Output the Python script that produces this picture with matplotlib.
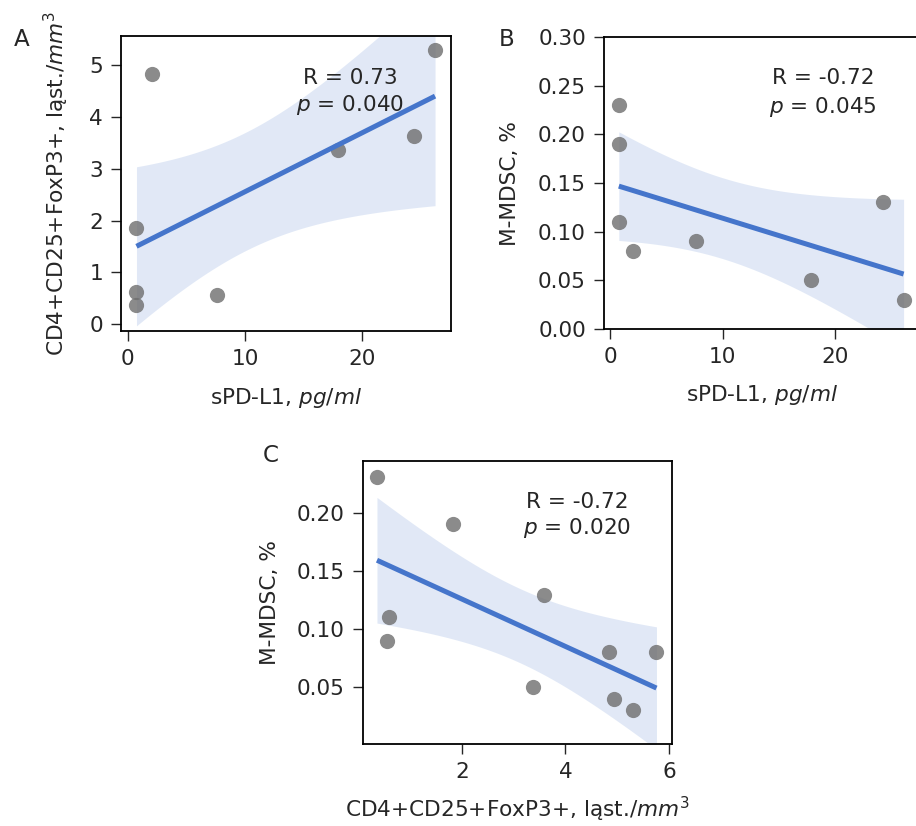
import numpy as np
import matplotlib
matplotlib.use("Agg")
import matplotlib.pyplot as plt

# ---- data ----
spdl1 = [0.75, 0.75, 0.75, 2.1, 7.6, 17.9, 24.4, 26.2]
treg_a = [1.85, 0.61, 0.37, 4.83, 0.57, 3.36, 3.63, 5.30]

spdl1_b = [0.75, 0.75, 0.75, 2.0, 7.6, 17.9, 24.3, 26.1]
mdsc_b = [0.23, 0.19, 0.11, 0.08, 0.09, 0.05, 0.13, 0.03]

treg_c = [0.36, 1.83, 0.60, 0.55, 3.59, 3.38, 4.84, 4.93, 5.31, 5.76]
mdsc_c = [0.231, 0.19, 0.11, 0.09, 0.129, 0.05, 0.08, 0.04, 0.03, 0.08]

stat_a = ["R = 0.73", "$p$ = 0.040"]
stat_b = ["R = -0.72", "$p$ = 0.045"]
stat_c = ["R = -0.72", "$p$ = 0.020"]

xlabel_spd = "sPD-L1, $pg/ml$"
label_treg = "CD4+CD25+FoxP3+, ląst./$mm^3$"
label_mdsc = "M-MDSC, %"

Z95 = 1.96  # normal quantile for the 95% band

# ---- style ----
FS = 15.6
TXT = "#262626"
plt.rcParams.update({
    "font.family": ["DejaVu Sans"],
    "font.size": FS,
    "text.color": TXT,
    "axes.labelcolor": TXT,
    "xtick.color": TXT,
    "ytick.color": TXT,
    "xtick.labelcolor": TXT,
    "ytick.labelcolor": TXT,
    "axes.linewidth": 1.3,
    "xtick.major.size": 7,
    "ytick.major.size": 7,
    "xtick.major.width": 1.0,
    "ytick.major.width": 1.0,
    "xtick.major.pad": 6,
    "ytick.major.pad": 6,
    "mathtext.fontset": "dejavusans",
})

LINE = "#4575cb"
PT = "#6e6e6e"

W, H = 916, 826
fig = plt.figure(figsize=(W / 100, H / 100), dpi=100)


def add_ax(l, r, t, b):
    return fig.add_axes([l / W, 1 - b / H, (r - l) / W, (b - t) / H])


def regpanel(ax, x, y):
    x = np.asarray(x, float)
    y = np.asarray(y, float)
    n = len(x)
    b1, b0 = np.polyfit(x, y, 1)
    grid = np.linspace(x.min(), x.max(), 100)
    yhat = b0 + b1 * grid
    resid = y - (b0 + b1 * x)
    s = np.sqrt(np.sum(resid ** 2) / (n - 2))
    sxx = np.sum((x - x.mean()) ** 2)
    half = Z95 * s * np.sqrt(1 / n + (grid - x.mean()) ** 2 / sxx)
    ax.fill_between(grid, yhat - half, yhat + half, color=LINE, alpha=0.16,
                    linewidth=0, zorder=1)
    ax.plot(grid, yhat, color=LINE, lw=3.6, zorder=3, solid_capstyle="butt")
    ax.scatter(x, y, s=120, color=PT, alpha=0.8, linewidths=0, zorder=2)


def stats(ax, lines, ya, yb):
    ax.text(0.694, ya, lines[0], transform=ax.transAxes, ha="center", va="center",
            fontsize=FS)
    ax.text(0.694, yb, lines[1], transform=ax.transAxes, ha="center", va="center",
            fontsize=FS)


# Panel A
axA = add_ax(121, 451, 36, 331)
regpanel(axA, spdl1, treg_a)
axA.set_xlim(-0.57, 27.56)
axA.set_ylim(-0.135, 5.57)
axA.set_xticks([0, 10, 20])
axA.set_yticks([0, 1, 2, 3, 4, 5])
axA.set_xlabel(xlabel_spd)
axA.set_ylabel(label_treg)
axA.xaxis.set_label_coords(0.5, -0.185)
axA.yaxis.set_label_coords(-0.152, 0.5)
stats(axA, stat_a, 0.858, 0.766)

# Panel B
axB = add_ax(604, 920, 37, 329)
regpanel(axB, spdl1_b, mdsc_b)
axB.set_xlim(-0.57, 27.56)
axB.set_ylim(0, 0.30)
axB.set_xticks([0, 10, 20])
axB.set_yticks([0, 0.05, 0.10, 0.15, 0.20, 0.25, 0.30])
axB.set_yticklabels([f"{v:.2f}" for v in axB.get_yticks()])
axB.set_xlabel(xlabel_spd)
axB.set_ylabel(label_mdsc)
axB.xaxis.set_label_coords(0.5, -0.185)
axB.yaxis.set_label_coords(-0.265, 0.5)
stats(axB, stat_b, 0.861, 0.761)

# Panel C
axC = add_ax(363, 672, 461, 744)
regpanel(axC, treg_c, mdsc_c)
axC.set_xlim(0.09, 6.06)
axC.set_ylim(0.001, 0.2445)
axC.set_xticks([2, 4, 6])
axC.set_yticks([0.05, 0.10, 0.15, 0.20])
axC.set_yticklabels([f"{v:.2f}" for v in axC.get_yticks()])
axC.set_xlabel(label_treg)
axC.set_ylabel(label_mdsc)
axC.xaxis.set_label_coords(0.5, -0.178)
axC.yaxis.set_label_coords(-0.268, 0.5)
stats(axC, stat_c, 0.856, 0.762)

# panel letters
fig.text(22 / W, 1 - 39 / H, "A", ha="center", va="center", fontsize=FS + 1)
fig.text(507 / W, 1 - 39 / H, "B", ha="center", va="center", fontsize=FS + 1)
fig.text(271 / W, 1 - 455 / H, "C", ha="center", va="center", fontsize=FS + 1)

fig.savefig("out.png", dpi=100)
